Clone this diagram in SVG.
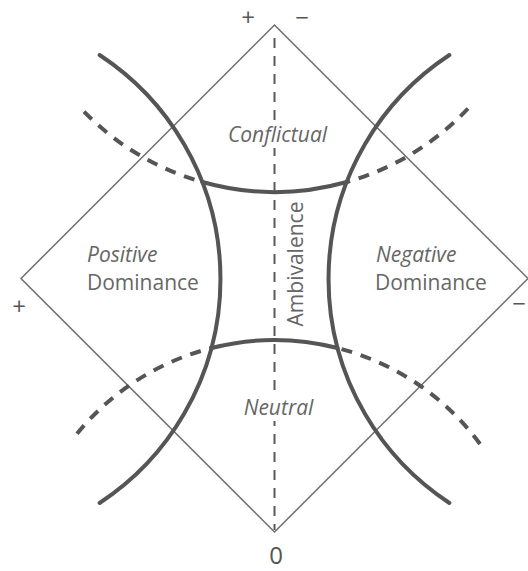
<svg xmlns="http://www.w3.org/2000/svg" width="528" height="571" viewBox="0 0 528 571">
  <style>
    .frame { fill: none; stroke: #6e6e6e; stroke-width: 1.5; }
    .axis { fill: none; stroke: #5a5a5a; stroke-width: 2; stroke-dasharray: 10 8; }
    .bound { fill: none; stroke: #555; stroke-width: 4; stroke-linecap: round; }
    .bound-ext { fill: none; stroke: #555; stroke-width: 4; stroke-dasharray: 11 9; }
    .lbl { font-family: "Open Sans", "Noto Sans", sans-serif; font-size: 21px; fill: #666; }
    .it { font-style: italic; }
    .sign { font-family: "Open Sans", "Noto Sans", sans-serif; font-size: 24px; fill: #555; text-anchor: middle; }
  </style>
  <rect width="528" height="571" fill="#fff"/>

  <!-- outer diamond -->
  <g id="frame">
    <polygon class="frame" points="274.5,25 528,278.5 274.5,532 21,278.5"/>
  </g>

  <!-- connectors: central axis and region boundaries -->
  <g id="connectors">
    <line class="axis" x1="274.5" y1="38" x2="274.5" y2="530"/>
    <!-- side boundaries -->
    <path class="bound" d="M 99.6 55 A 268 268 0 0 1 99.6 503"/>
    <path class="bound" d="M 449.4 55 A 268 268 0 0 0 449.4 503"/>
    <!-- upper boundary -->
    <path class="bound" d="M 202.3 182 A 266 266 0 0 0 346.7 182"/>
    <path class="bound-ext" d="M 84 111.6 A 266 266 0 0 0 202.3 182"/>
    <path class="bound-ext" d="M 468 108.5 A 266 266 0 0 1 346.7 182"/>
    <!-- lower boundary -->
    <path class="bound" d="M 211.5 348 A 255 255 0 0 1 337.5 348"/>
    <path class="bound-ext" d="M 77 433.7 A 255 255 0 0 1 211.5 348"/>
    <path class="bound-ext" d="M 480 444 A 255 255 0 0 0 337.5 348"/>
  </g>

  <!-- region labels -->
  <g id="conflictual">
    <rect x="222" y="122" width="110" height="26" fill="#fff"/>
    <text class="lbl it" x="277.5" y="142" text-anchor="middle">Conflictual</text>
  </g>
  <g id="positive-dominance">
    <text class="lbl" x="87" y="262"><tspan class="it">Positive</tspan></text>
    <text class="lbl" x="87" y="290">Dominance</text>
  </g>
  <g id="negative-dominance">
    <text class="lbl" x="376" y="262"><tspan class="it">Negative</tspan></text>
    <text class="lbl" x="375" y="290">Dominance</text>
  </g>
  <g id="ambivalence">
    <text class="lbl" transform="translate(303,264) rotate(-90)" text-anchor="middle">Ambivalence</text>
  </g>
  <g id="neutral">
    <rect x="240" y="396" width="76" height="25" fill="#fff"/>
    <text class="lbl it" x="278.5" y="415" text-anchor="middle">Neutral</text>
  </g>

  <!-- pole signs -->
  <g id="signs">
    <text class="sign" x="248" y="26">+</text>
    <text class="sign" x="302" y="26">−</text>
    <text class="sign" x="19" y="315">+</text>
    <text class="sign" x="519" y="312">−</text>
    <text class="sign" x="276" y="564">0</text>
  </g>
</svg>
